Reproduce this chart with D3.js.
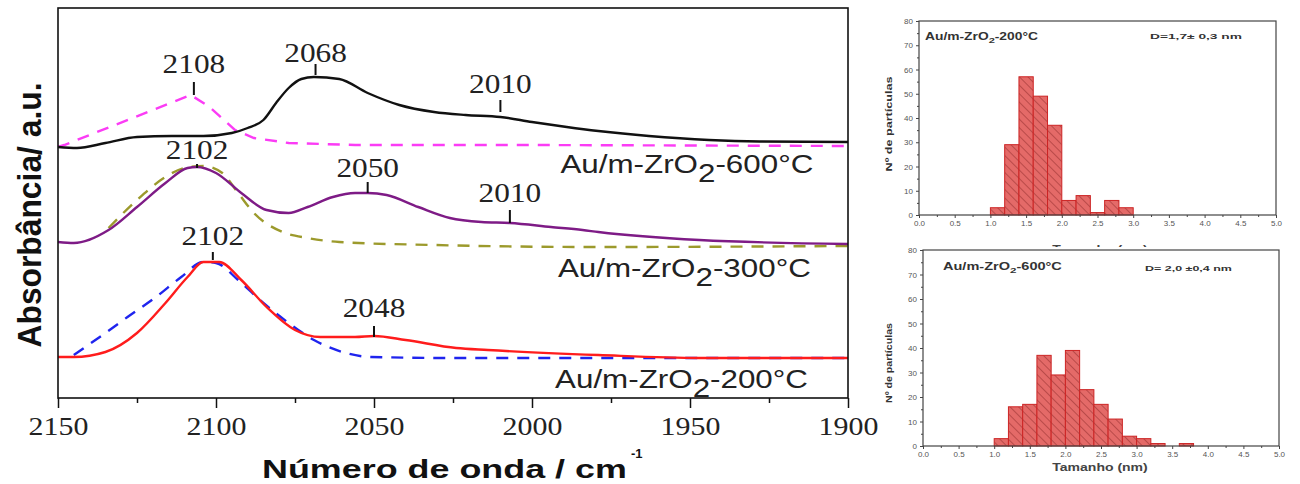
<!DOCTYPE html>
<html>
<head>
<meta charset="utf-8">
<script src="https://cdn.jsdelivr.net/npm/d3@7"></script>
<style>
  body { margin: 0; background: #fff; }
  svg { display: block; }
</style>
</head>
<body>
<svg width="1300" height="484"></svg>
<script>
// ---- spectra (wavenumber cm-1 / absorbance a.u.) ----
var wn600 = [2150, 2144, 2135, 2125, 2114, 2104, 2095, 2090, 2085, 2081, 2077, 2073, 2069, 2061, 2052, 2042, 2031, 2021, 2010, 2000, 1989, 1979, 1963, 1944, 1928, 1900];
var abs600 = [251, 250, 255, 261, 262, 262, 265, 270, 278, 295, 310, 319, 321, 319, 305, 293, 286, 283, 281, 276, 271, 267, 262, 258, 256.5, 256];

var wnRef600 = [2150, 2148, 2108, 2102, 2094, 2088, 2077, 2056, 2000, 1900];
var absRef600 = [251, 253, 303, 291, 268, 260, 255, 253, 253, 252];

var wn300 = [2150, 2145, 2134, 2125, 2116, 2109, 2106, 2100, 2092, 2084, 2077, 2071, 2063, 2056, 2052, 2046, 2036, 2026, 2016, 2007, 1994, 1984, 1979, 1947, 1900];
var abs300 = [156, 155, 168, 191, 215, 230, 231, 225, 205, 188, 185, 191, 201, 205, 205, 203, 191, 180, 176, 175, 171, 168, 166, 158, 154];

var wnRef300 = [2134, 2125, 2116, 2110, 2104, 2098, 2093, 2088, 2079, 2071, 2061, 2031, 1979, 1900];
var absRef300 = [170, 198, 221, 230, 232, 225, 205, 185, 166, 160, 156, 153, 151, 152];

var wn200 = [2150, 2145, 2135, 2125, 2116, 2109, 2104, 2099, 2092, 2084, 2075, 2067, 2056, 2050, 2040, 2024, 2014, 1979, 1947, 1900];
var abs200 = [41, 41, 46, 65, 95, 121, 136, 136, 118, 91, 68, 61, 61, 62, 58, 50, 48, 43, 40, 40];

var wnRef200 = [2145, 2135, 2128, 2119, 2111, 2104, 2100, 2093, 2085, 2077, 2069, 2060, 2051, 2024, 1900];
var absRef200 = [43, 65, 81, 101, 121, 136, 135, 118, 95, 75, 58, 46, 41, 40, 40];

var xTicks = [2150, 2100, 2050, 2000, 1950, 1900];
var xMinor = [2125, 2075, 2025, 1975, 1925];

// peak labels: text, wavenumber, tick bottom, tick top, text baseline
var peakText = ["2108", "2068", "2010", "2102", "2050", "2010", "2102", "2048"];
var peakWn = [2107, 2068.5, 2010, 2106, 2052, 2007, 2101, 2050];
var peakLo = [303, 323, 286, 230, 205, 175, 138, 61];
var peakHi = [316, 334, 298, 234, 216, 188, 146, 72];
var peakTxt = [325, 336, 305, 239, 221, 196, 153, 81];

// sample names
var sampleTemp = ["600°C", "300°C", "200°C"];
var sampleWn = [1991, 1991.8, 1992.7];
var sampleAbs = [225, 121, 10];

// ---- particle size histograms ----
var binW = 0.2;
var bins200 = [1.0, 1.2, 1.4, 1.6, 1.8, 2.0, 2.2, 2.4, 2.6, 2.8];
var count200 = [3, 29, 57, 49, 37, 6, 8, 1, 6, 3];
var bins600 = [1.0, 1.2, 1.4, 1.6, 1.8, 2.0, 2.2, 2.4, 2.6, 2.8, 3.0, 3.2, 3.4, 3.6];
var count600 = [3, 16, 17, 37, 29, 39, 23, 17, 11, 4, 3, 1, 0, 1];

var serif = '"Liberation Serif", Tinos, "Times New Roman", "DejaVu Serif", "Noto Serif", serif';
var sans = '"Liberation Sans", Arial, sans-serif';

var svg = d3.select("svg");

// stretch a text horizontally so it spans the given width
function stretch(sel, width) {
    sel.each(function() {
        var b = this.getBBox();
        var t = d3.select(this).attr("transform") || "";
        d3.select(this).attr("transform", t + " scale(" + (width / b.width) + ",1)");
    });
}

var x = d3.scaleLinear().domain([2150, 1900]).range([58, 848]);
var y = d3.scaleLinear().domain([0, 390]).range([398, 8]);

function pts(w, a) {
    return w.map(function(d, i) { return [d, a[i]]; });
}

var smooth = d3.line()
    .x(function(d) { return x(d[0]); })
    .y(function(d) { return y(d[1]); })
    .curve(d3.curveMonotoneX);
var straight = d3.line()
    .x(function(d) { return x(d[0]); })
    .y(function(d) { return y(d[1]); });

// dashed references first, then the measured spectra
var series = [
    { d: pts(wnRef600, absRef600), c: "#fb3cf5", dash: "12,9", gen: straight },
    { d: pts(wnRef300, absRef300), c: "#9c9a2c", dash: "12,9", gen: smooth },
    { d: pts(wnRef200, absRef200), c: "#1f24ee", dash: "12,9", gen: smooth },
    { d: pts(wn600, abs600), c: "#111111", dash: null, gen: smooth },
    { d: pts(wn300, abs300), c: "#7e1b86", dash: null, gen: smooth },
    { d: pts(wn200, abs200), c: "#ff1c1c", dash: null, gen: smooth }
];

series.forEach(function(s) {
    svg.append("path").datum(s.d)
        .attr("d", s.gen)
        .attr("fill", "none")
        .attr("stroke", s.c)
        .attr("stroke-width", 2.4)
        .attr("stroke-dasharray", s.dash);
});

// frame
svg.append("rect")
    .attr("x", x(2150)).attr("y", y(390))
    .attr("width", x(1900) - x(2150)).attr("height", y(0) - y(390))
    .attr("fill", "none").attr("stroke", "#111").attr("stroke-width", 1.6);

// x axis
var gx = svg.append("g").attr("transform", "translate(0," + y(0) + ")")
    .call(d3.axisBottom(x).tickValues(xTicks).tickSize(10).tickSizeOuter(0).tickFormat(d3.format("d")));
gx.select(".domain").remove();
gx.selectAll("line").attr("stroke", "#111").attr("stroke-width", 1.5);
gx.selectAll("text")
    .attr("y", 37).attr("dy", null)
    .attr("fill", "#222")
    .attr("font-family", null)
    .style("font-family", serif).style("font-size", "26px")
    .attr("transform", "scale(1.15,1)");

var gm = svg.append("g").attr("transform", "translate(0," + y(0) + ")")
    .call(d3.axisBottom(x).tickValues(xMinor).tickSize(5).tickFormat(""));
gm.select(".domain").remove();
gm.selectAll("line").attr("stroke", "#111").attr("stroke-width", 1.5);

// peak labels
peakText.forEach(function(t, i) {
    svg.append("line")
        .attr("x1", x(peakWn[i])).attr("x2", x(peakWn[i]))
        .attr("y1", y(peakLo[i])).attr("y2", y(peakHi[i]))
        .attr("stroke", "#111").attr("stroke-width", 2);
    svg.append("text")
        .attr("transform", "translate(" + x(peakWn[i]) + "," + y(peakTxt[i]) + ") scale(1.16,1)")
        .attr("text-anchor", "middle")
        .style("font-family", serif).style("font-size", "27px")
        .attr("fill", "#222")
        .text(t);
});

// sample names with subscript
sampleTemp.forEach(function(t, i) {
    var tx = svg.append("text")
        .attr("transform", "translate(" + x(sampleWn[i]) + "," + y(sampleAbs[i]) + ")")
        .style("font-family", sans).style("font-size", "25px")
        .attr("fill", "#222");
    tx.append("tspan").text("Au/m-ZrO");
    tx.append("tspan").attr("dy", 9).text("2");
    tx.append("tspan").attr("dy", -9).text("-" + t);
    stretch(tx, 253);
});

// axis titles
var xt = svg.append("text")
    .attr("transform", "translate(262,478)")
    .style("font-family", sans).style("font-size", "25px").style("font-weight", "bold")
    .attr("fill", "#111")
    .text("Número de onda / cm");
stretch(xt, 365);
svg.append("text")
    .attr("x", 631).attr("y", 458)
    .style("font-family", sans).style("font-size", "13px").style("font-weight", "bold")
    .attr("fill", "#111")
    .text("-1");

var yt = svg.append("text")
    .attr("transform", "translate(41,215) rotate(-90)")
    .attr("text-anchor", "middle")
    .style("font-family", sans).style("font-size", "34px").style("font-weight", "bold")
    .attr("fill", "#111")
    .text("Absorbância/ a.u.");
stretch(yt, 265);

// ---- histograms ----
var defs = svg.append("defs");
var pat = defs.append("pattern")
    .attr("id", "hatch")
    .attr("patternUnits", "userSpaceOnUse")
    .attr("width", 6).attr("height", 6)
    .attr("patternTransform", "rotate(-45)");
pat.append("rect").attr("width", 6).attr("height", 6).attr("fill", "#e46a68");
pat.append("line").attr("x1", 0).attr("y1", 0).attr("x2", 0).attr("y2", 6)
    .attr("stroke", "#8e2a2a").attr("stroke-width", 1);

function drawHist(o) {
    var hx = d3.scaleLinear().domain([0, 5]).range([o.left, o.right]);
    var hy = d3.scaleLinear().domain([0, 80]).range([o.bottom, o.top]);
    var g = svg.append("g");

    g.append("rect")
        .attr("x", 880).attr("y", o.bgTop)
        .attr("width", 420).attr("height", o.bgBottom - o.bgTop)
        .attr("fill", "#fff");

    g.selectAll("rect.bar")
        .data(o.bins.filter(function(d, i) { return o.counts[i] > 0; }))
        .enter().append("rect")
        .attr("class", "bar")
        .attr("x", function(d) { return hx(d); })
        .attr("width", function(d) { return hx(d + binW) - hx(d); })
        .attr("y", function(d) { return hy(o.counts[o.bins.indexOf(d)]); })
        .attr("height", function(d) { return hy(0) - hy(o.counts[o.bins.indexOf(d)]); })
        .attr("fill", "url(#hatch)")
        .attr("stroke", "#cc2424")
        .attr("stroke-width", 1);

    g.append("rect")
        .attr("x", o.left).attr("y", o.top)
        .attr("width", o.right - o.left).attr("height", o.bottom - o.top)
        .attr("fill", "none").attr("stroke", "#444").attr("stroke-width", 1.2);

    var ax = g.append("g").attr("transform", "translate(0," + o.bottom + ")")
        .call(d3.axisBottom(hx).tickValues(d3.range(0, 5.01, 0.5)).tickSize(3).tickPadding(2).tickFormat(d3.format(".1f")));
    var axm = g.append("g").attr("transform", "translate(0," + o.bottom + ")")
        .call(d3.axisBottom(hx).tickValues(d3.range(0.25, 5, 0.5)).tickSize(2).tickFormat(""));
    var ay = g.append("g").attr("transform", "translate(" + o.left + ",0)")
        .call(d3.axisLeft(hy).tickValues(d3.range(0, 81, 10)).tickSize(3).tickPadding(3));
    var aym = g.append("g").attr("transform", "translate(" + o.left + ",0)")
        .call(d3.axisLeft(hy).tickValues(d3.range(5, 80, 10)).tickSize(2).tickFormat(""));
    [ax, axm, ay, aym].forEach(function(a) {
        a.select(".domain").remove();
        a.selectAll("line").attr("stroke", "#444");
        a.selectAll("text").attr("fill", "#555")
            .style("font-family", sans).style("font-size", "8px");
    });

    var lab = g.append("text")
        .attr("transform", "translate(" + o.labX + "," + o.labY + ")")
        .style("font-family", sans).style("font-size", "10px").style("font-weight", "bold")
        .attr("fill", "#333");
    lab.append("tspan").text("Au/m-ZrO");
    lab.append("tspan").attr("dy", 3).style("font-size", "8px").text("2");
    lab.append("tspan").attr("dy", -3).text(o.temp);
    stretch(lab, o.labW);

    var dt = g.append("text")
        .attr("transform", "translate(" + o.dX + "," + o.dY + ")")
        .style("font-family", sans).style("font-size", "8px").style("font-weight", "bold")
        .attr("fill", "#333")
        .text(o.dText);
    stretch(dt, o.dW);

    var yl = g.append("text")
        .attr("transform", "translate(" + o.ylX + "," + o.ylY + ") rotate(-90)")
        .attr("text-anchor", "middle")
        .style("font-family", sans).style("font-size", "9px").style("font-weight", "bold")
        .attr("fill", "#333")
        .text("Nº de partículas");
    stretch(yl, o.ylW);

    var xl = g.append("text")
        .attr("transform", "translate(" + o.xlX + "," + o.xlY + ")")
        .attr("text-anchor", "middle")
        .style("font-family", sans).style("font-size", "11px").style("font-weight", "bold")
        .attr("fill", "#444")
        .text("Tamanho (nm)");
    stretch(xl, 96);
}

drawHist({
    left: 919, right: 1276, top: 21, bottom: 215, bgTop: 0, bgBottom: 247,
    bins: bins200, counts: count200, temp: "-200°C",
    labX: 925, labY: 40, labW: 113,
    dText: "D=1,7± 0,3 nm", dX: 1150, dY: 39, dW: 92,
    ylX: 892, ylY: 124, ylW: 95,
    xlX: 1100, xlY: 253
});

drawHist({
    left: 923, right: 1279, top: 250, bottom: 446, bgTop: 247, bgBottom: 484,
    bins: bins600, counts: count600, temp: "-600°C",
    labX: 943, labY: 270, labW: 119,
    dText: "D= 2,0 ±0,4 nm", dX: 1145, dY: 271, dW: 87,
    ylX: 892, ylY: 363, ylW: 80,
    xlX: 1100, xlY: 471
});
</script>
</body>
</html>
